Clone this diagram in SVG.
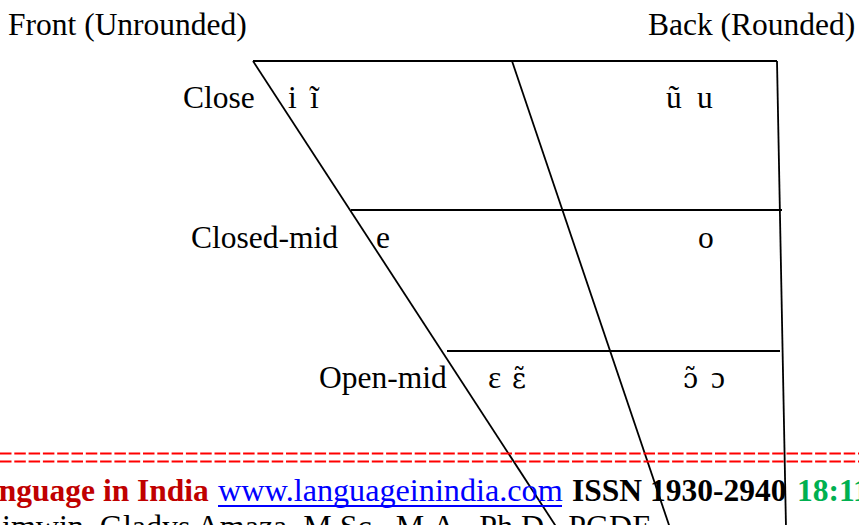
<svg xmlns="http://www.w3.org/2000/svg" width="859" height="525" viewBox="0 0 859 525">
<style>
.t{font-family:"Liberation Serif","Times New Roman",serif;font-size:31.5px;fill:#000}
.ipa{font-family:"DejaVu Serif","Liberation Serif",serif;font-size:27px;fill:#000}
.b{font-weight:bold}
.ln{stroke:#000;stroke-width:1.8;fill:none}
.rd{stroke:#ff0000;stroke-width:2.2;stroke-dasharray:11.5 2.8;fill:none}
</style>
<rect width="859" height="525" fill="#fff"/>
<g id="headings">
<text class="t" x="8" y="35">Front (Unrounded)</text>
<text class="t" x="648" y="35">Back (Rounded)</text>
</g>
<g id="chart-lines">
<line class="ln" x1="253" y1="61" x2="777" y2="61"/>
<line class="ln" x1="253" y1="61" x2="557" y2="528"/>
<line class="ln" x1="512" y1="61" x2="670" y2="528"/>
<line class="ln" x1="777" y1="61" x2="786" y2="528"/>
<line class="ln" x1="351" y1="210" x2="782" y2="210"/>
<line class="ln" x1="447" y1="351" x2="780" y2="351"/>
</g>
<g id="row-close">
<text class="t" x="183" y="108">Close</text>
<text class="t" x="288" y="108">i</text>
<text class="t" x="310" y="108">ĩ</text>
<text class="t" x="666" y="108">ũ</text>
<text class="t" x="697" y="108">u</text>
</g>
<g id="row-closed-mid">
<text class="t" x="191" y="248">Closed-mid</text>
<text class="t" x="376" y="248">e</text>
<text class="t" x="698" y="248">o</text>
</g>
<g id="row-open-mid">
<text class="t" x="319" y="388">Open-mid</text>
<text class="t" x="488" y="388">ε</text>
<text class="ipa" x="512" y="388">ε̃</text>
<text class="ipa" x="683" y="388">ɔ̃</text>
<text class="t" x="711" y="388">ɔ</text>
</g>
<g id="footer">
<line class="rd" x1="0" y1="453.5" x2="859" y2="453.5"/>
<line class="rd" x1="0" y1="461.5" x2="859" y2="461.5"/>
<text class="t b" x="-38" y="501" style="fill:#c00000">Language in India</text>
<text class="t" x="218" y="501" style="fill:#0000ff;font-size:32.2px">www.languageinindia.com</text>
<line x1="218" y1="506" x2="562" y2="506" stroke="#0000ff" stroke-width="2"/>
<text class="t b" x="572" y="501">ISSN 1930-2940</text>
<text class="t b" x="797" y="501" style="fill:#00b050">18:11</text>
<text class="t" x="2" y="537" style="font-size:32px">imwin, Gladys Amaza, M.Sc., M.A., Ph.D., PGDE</text>
</g>
</svg>
